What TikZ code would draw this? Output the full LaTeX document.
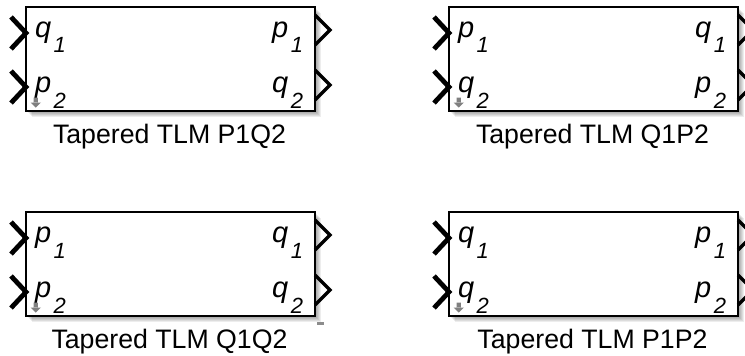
\documentclass[tikz,border=0pt]{standalone}
\usepackage{fontspec}
\setmainfont{Liberation Sans}
\tikzset{
  tlmbox/.style={draw=black, line width=2.4pt, fill=white, minimum width=289pt, minimum height=104pt, inner sep=0pt, outer sep=0pt},
  inport/.style={line width=4.8pt, line join=miter, line cap=butt},
  outport/.style={line width=3.4pt, line join=miter, line cap=butt},
  portlbl/.style={inner sep=0pt, outer sep=0pt, font=\fontsize{29}{32}\selectfont\itshape},
  titlelbl/.style={inner sep=0pt, anchor=base, font=\fontsize{26.7}{30}\selectfont},
  sigarrow/.style={fill=black!50, draw=none},
}
\newcommand\plbl[2]{#1\hspace{2.5pt}\raisebox{-16pt}{\fontsize{22}{22}\selectfont\itshape #2}}
\newcommand\tlmblock[8]{%
  \begin{scope}[shift={(#2,#3)}]
    \foreach \i in {1,...,6}{\fill[black,opacity=0.07] (\i,\i) rectangle (289+\i,104+\i);}
    \node[tlmbox] (#1) at (144.5,52) {};
    \draw[inport] (-15,10) -- (0,26) -- (-15,42);
    \draw[inport] (-15,64) -- (0,80) -- (-15,96);
    \draw[outport] (289,8) -- (304,23) -- (289,38);
    \draw[outport] (289,63) -- (304,78) -- (289,93);
    \node[portlbl, anchor=base west] (#1-l1) at (9,30) {#4};
    \node[portlbl, anchor=base west] (#1-l2) at (9,85) {#5};
    \node[portlbl, anchor=base east] (#1-r1) at (277,30) {#6};
    \node[portlbl, anchor=base east] (#1-r2) at (277,85) {#7};
    \fill[sigarrow] (7.7,90.5) rectangle (11.8,96) (4.5,95.5) -- (15,95.5) -- (9.75,100.5) -- cycle;
    \node[titlelbl] (#1-t) at (143.5,136) {#8};
  \end{scope}}
\begin{document}
\begin{tikzpicture}[x=1pt,y=-1pt]
\useasboundingbox[fill=white] (0,0) rectangle (745,356);
\tlmblock{b1}{26}{7}{\plbl{q}{1}}{\plbl{p}{2}}{\plbl{p}{1}\hspace{12pt}}{\plbl{q}{2}\hspace{12pt}}{Tapered TLM P1Q2}
\tlmblock{b2}{449}{7}{\plbl{p}{1}}{\plbl{q}{2}}{\plbl{q}{1}\hspace{12pt}}{\plbl{p}{2}\hspace{12pt}}{Tapered TLM Q1P2}
\tlmblock{b3}{26}{212}{\plbl{p}{1}}{\plbl{p}{2}}{\plbl{q}{1}\hspace{12pt}}{\plbl{q}{2}\hspace{12pt}}{Tapered TLM Q1Q2}
\tlmblock{b4}{449}{212}{\plbl{q}{1}}{\plbl{q}{2}}{\plbl{p}{1}\hspace{12pt}}{\plbl{p}{2}\hspace{12pt}}{Tapered TLM P1P2}
\fill[black!45] (317,322) rectangle (324,325);
\end{tikzpicture}
\end{document}
